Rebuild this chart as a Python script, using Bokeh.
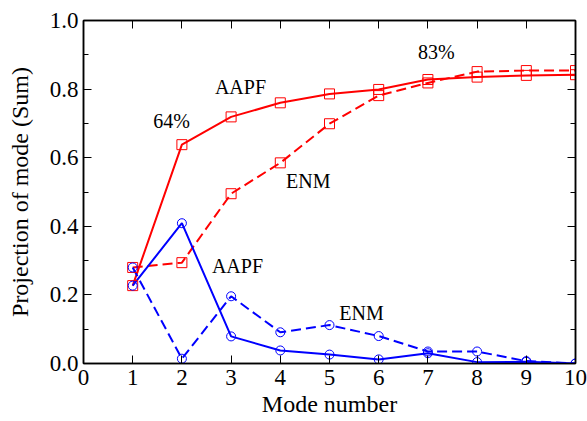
from bokeh.plotting import figure
from bokeh.models import (ColumnDataSource, LinearAxis, SingleIntervalTicker,
                          PrintfTickFormatter, CustomJSTickFormatter)
from bokeh.core.properties import value
from bokeh.embed import file_html
from bokeh.resources import INLINE

# Cumulative projection of modes (sum) for the first ten modes
modes = [1, 2, 3, 4, 5, 6, 7, 8, 9, 10]
aapf_sum = [0.227, 0.638, 0.719, 0.760, 0.786, 0.799, 0.828, 0.835, 0.840, 0.842]
enm_sum = [0.280, 0.294, 0.495, 0.585, 0.699, 0.781, 0.818, 0.851, 0.854, 0.854]
aapf_single = [0.227, 0.409, 0.079, 0.038, 0.026, 0.012, 0.030, 0.004, 0.005, 0.0]
enm_single = [0.280, 0.014, 0.196, 0.091, 0.112, 0.080, 0.035, 0.035, 0.007, 0.0]

# Annotation texts and their anchor points (data units)
note_text = ["AAPF", "64%", "ENM", "83%", "AAPF", "ENM"]
note_x = [3.19, 1.79, 4.57, 7.17, 3.13, 5.65]
note_y = [0.805, 0.708, 0.531, 0.907, 0.283, 0.146]

x_title = "Mode number"
y_title = "Projection of mode (Sum)"

FONT = "Liberation Serif"
RED = "#ff0000"
BLUE = "#0000ff"

p = figure(width=587, height=421, x_range=(0, 10), y_range=(0, 1.0),
           output_backend="svg", toolbar_location=None,
           min_border_left=83, min_border_right=12,
           min_border_top=20, min_border_bottom=58)
p.grid.visible = False
p.outline_line_color = "black"
p.outline_line_width = 1.5
p.background_fill_color = "white"
p.border_fill_color = "white"

x_ticker = SingleIntervalTicker(interval=1, num_minor_ticks=0)
y_ticker = SingleIntervalTicker(interval=0.2, num_minor_ticks=2)


def style_axis(ax, labels=True):
    ax.axis_line_color = "black"
    ax.axis_line_width = 1.5
    ax.major_tick_in = 8
    ax.major_tick_out = 0
    ax.minor_tick_in = 5
    ax.minor_tick_out = 0
    ax.major_tick_line_color = "black"
    ax.minor_tick_line_color = "black"
    ax.major_tick_line_width = 1
    ax.minor_tick_line_width = 1
    if labels:
        ax.major_label_text_font = FONT
        ax.major_label_text_font_size = "23px"
        ax.major_label_text_color = "black"
        ax.axis_label_text_font = FONT
        ax.axis_label_text_font_size = "24px"
        ax.axis_label_text_font_style = "normal"
        ax.axis_label_text_color = "black"
    else:
        # tick marks only, no labels on the mirrored edges
        ax.formatter = CustomJSTickFormatter(code="return ''")
        ax.major_label_standoff = 0


xa = p.xaxis[0]
xa.ticker = x_ticker
xa.axis_label = x_title
style_axis(xa)
xa.major_label_standoff = 6
xa.axis_label_standoff = 3

ya = p.yaxis[0]
ya.ticker = y_ticker
ya.formatter = PrintfTickFormatter(format="%.1f")
ya.axis_label = y_title
style_axis(ya)
ya.major_label_standoff = 5
ya.axis_label_standoff = 14

# Mirrored tick marks on the top and right edges
top = LinearAxis(ticker=x_ticker)
style_axis(top, labels=False)
p.add_layout(top, "above")
right = LinearAxis(ticker=y_ticker)
style_axis(right, labels=False)
p.add_layout(right, "right")

src = ColumnDataSource(dict(x=modes, aapf_sum=aapf_sum, enm_sum=enm_sum,
                            aapf_single=aapf_single, enm_single=enm_single))

# Red: cumulative sums; blue: individual projections
p.line("x", "aapf_sum", source=src, line_color=RED, line_width=2)
p.line("x", "enm_sum", source=src, line_color=RED, line_width=2,
       line_dash="10 5")
p.line("x", "aapf_single", source=src, line_color=BLUE, line_width=2)
p.line("x", "enm_single", source=src, line_color=BLUE, line_width=2,
       line_dash="10 5")

for col in ("aapf_sum", "enm_sum"):
    p.scatter("x", col, source=src, marker="square", size=10,
              fill_color=None, line_color=RED, line_width=1)
for col in ("aapf_single", "enm_single"):
    p.scatter("x", col, source=src, marker="circle", size=9,
              fill_color=None, line_color=BLUE, line_width=1)

notes = ColumnDataSource(dict(x=note_x, y=note_y, text=note_text))
p.text("x", "y", text="text", source=notes, text_font=value(FONT),
       text_font_size="20px", text_color="black", text_align="center",
       text_baseline="middle")

open("out.html", "w").write(file_html(p, INLINE))
